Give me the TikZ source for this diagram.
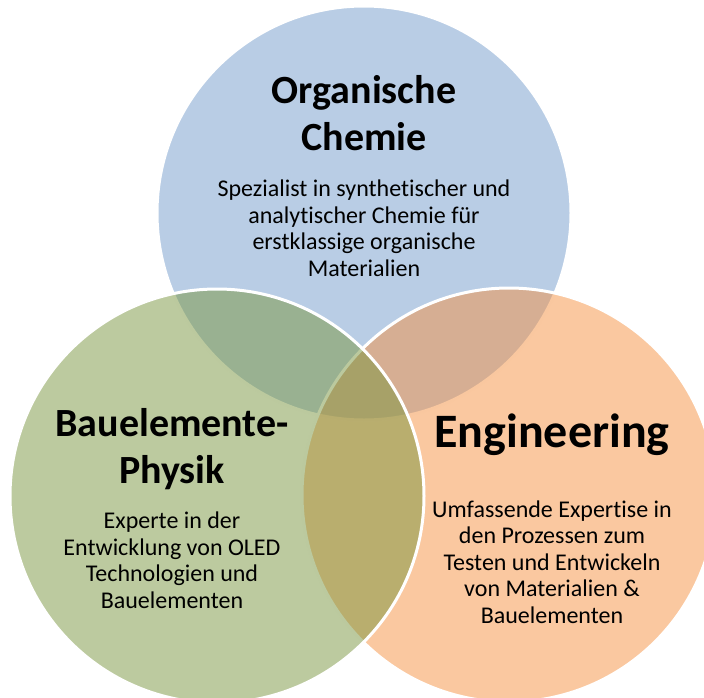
\documentclass[tikz,border=0pt]{standalone}
\usepackage{fontspec}
\setmainfont{Carlito}[Ligatures={NoCommon}]
\usepackage{tikz}

\definecolor{chemblue}{RGB}{115,155,203}
\definecolor{physgreen}{RGB}{121,149,63}
\definecolor{engorange}{RGB}{245,145,65}

\begin{document}
\begin{tikzpicture}[x=1pt,y=-1pt]

\tikzstyle{blob}=[circle,draw=white,line width=3pt,fill opacity=0.5,minimum size=414pt,inner sep=0pt]
\tikzstyle{title}=[align=center,font=\fontsize{40}{46.5}\selectfont\bfseries,inner sep=0pt]
\tikzstyle{bigtitle}=[align=center,font=\fontsize{48}{56}\selectfont\bfseries,inner sep=0pt]
\tikzstyle{body}=[align=center,font=\fontsize{24}{26.5}\selectfont,inner sep=0pt]

\useasboundingbox (0,0) rectangle (704,697);
\clip (0,0) rectangle (704,697);

\node[blob,fill=chemblue] (chem) at (364,213) {};
\node[blob,fill=engorange] (eng) at (509,495) {};
\node[blob,fill=physgreen] (phys) at (217,496) {};

\node[title] (chemtitle) at (364,113) {Organische\\Chemie};
\node[body] (chemtext) at (364,228) {Spezialist in synthetischer und\\analytischer Chemie f\"ur\\erstklassige organische\\Materialien};

\node[title] (phystitle) at (172,449) {Bauelemente-\\Physik};
\node[body] (phystext) at (172,560) {Experte in der\\Entwicklung von OLED\\Technologien und\\Bauelementen};

\node[bigtitle] (engtitle) at (552,435) {Engineering};
\node[body] (engtext) at (552,562) {Umfassende Expertise in\\den Prozessen zum\\Testen und Entwickeln\\von Materialien \&\\Bauelementen};
\end{tikzpicture}
\end{document}
